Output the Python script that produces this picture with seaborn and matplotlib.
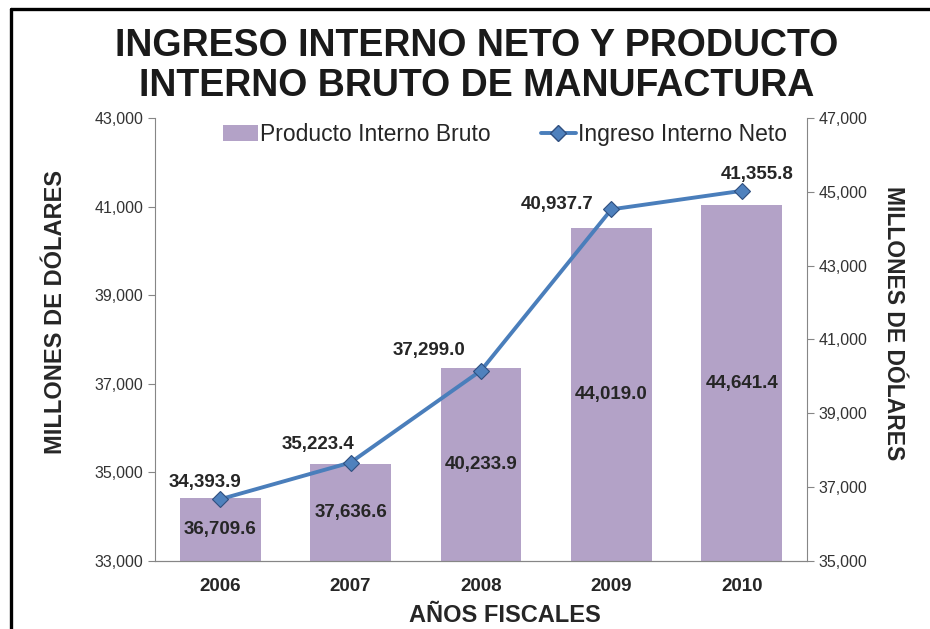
import numpy as np
import pandas as pd
import seaborn as sns
import matplotlib.pyplot as plt
from matplotlib.lines import Line2D
from matplotlib.patches import Patch

sns.set_style("ticks")
plt.rcParams["font.family"] = ["Liberation Sans", "DejaVu Sans"]

# Data
years = ["2006", "2007", "2008", "2009", "2010"]
pib = [36709.6, 37636.6, 40233.9, 44019.0, 44641.4]      # bars, right axis
ingreso = [34393.9, 35223.4, 37299.0, 40937.7, 41355.8]  # line, left axis

left_ticks = [33000, 35000, 37000, 39000, 41000, 43000]
right_ticks = [35000, 37000, 39000, 41000, 43000, 45000, 47000]

# label offsets (pixels) for the line labels, as placed in the original
line_offsets = [(-15, 17), (-33, 18), (-52, 20), (-54, 5), (15, 16)]

df = pd.DataFrame({"year": years, "pib": pib, "ingreso": ingreso})

bar_color = "#B3A2C7"
line_color = "#4A7EBB"
text_color = "#262626"
spine_color = "#868686"
px = 72 / 100  # pixels -> points

fig = plt.figure(figsize=(9.3, 6.29), dpi=100)
ax = fig.add_axes([155 / 930, 1 - 561 / 629, 652 / 930, 443 / 629])
ax2 = ax.twinx()

# bars on the right axis
sns.barplot(data=df, x="year", y="pib", ax=ax2, color=bar_color,
            saturation=1, width=0.62, edgecolor="none")
ax2.set_ylim(right_ticks[0], right_ticks[-1])
ax2.set_yticks(right_ticks)
ax2.set_yticklabels([f"{t:,}" for t in right_ticks])

# line on the left axis, drawn above the bars
ax.set_zorder(ax2.get_zorder() + 1)
ax.patch.set_visible(False)
sns.lineplot(x=np.arange(len(years)), y=ingreso, ax=ax, color=line_color,
             linewidth=2.8, marker="D", markersize=8.5,
             markerfacecolor="#4F81BD", markeredgecolor="#2F4F7F",
             markeredgewidth=0.8)
ax.set_ylim(left_ticks[0], left_ticks[-1])
ax.set_yticks(left_ticks)
ax.set_yticklabels([f"{t:,}" for t in left_ticks])
ax.set_xlim(-0.5, len(years) - 0.5)
ax.set_xticks(range(len(years)))
ax.set_xticklabels(years, fontsize=13.5, fontweight="bold", color=text_color)

# data labels
for i, v in enumerate(ingreso):
    dx, dy = line_offsets[i]
    ax.annotate(f"{v:,.1f}", (i, v), xytext=(dx * px, dy * px),
                textcoords="offset points", ha="center", va="center",
                fontsize=13.5, fontweight="bold", color=text_color)
lo = ax2.get_ylim()[0]
for i, v in enumerate(pib):
    ax2.text(i, (lo + v) / 2, f"{v:,.1f}", ha="center", va="center",
             fontsize=13.5, fontweight="bold", color=text_color)

# spines and ticks
for a in (ax, ax2):
    a.spines["top"].set_visible(False)
    for s in ("left", "right", "bottom"):
        a.spines[s].set_color(spine_color)
    a.tick_params(axis="y", labelsize=11.5, colors=spine_color,
                  labelcolor="#333333", length=5)
    a.tick_params(axis="x", length=0, pad=12)
ax.spines["right"].set_visible(False)
ax2.spines["left"].set_visible(False)
ax2.set_xlabel("")

ax.set_ylabel("MILLONES DE DÓLARES", fontsize=17, fontweight="bold",
              color=text_color, va="center")
ax.yaxis.set_label_coords(-0.1526, 0.562)
ax2.set_ylabel("MILLONES DE DÓLARES", fontsize=16.5, fontweight="bold",
               color=text_color, rotation=270, va="center")
ax2.yaxis.set_label_coords(1.132, 0.537)
ax.set_xlabel("AÑOS FISCALES", fontsize=17, fontweight="bold",
              color=text_color, va="center")
ax.xaxis.set_label_coords(0.537, -54 / 443)

fig.text(477 / 930, 1 - 66 / 629,
         "INGRESO INTERNO NETO Y PRODUCTO\nINTERNO BRUTO DE MANUFACTURA",
         ha="center", va="center", fontsize=27, fontweight="bold",
         color="#1a1a1a", linespacing=1.16)

handles = [Patch(facecolor=bar_color, edgecolor="none"),
           Line2D([0], [0], color=line_color, linewidth=2.8, marker="D",
                  markersize=8.5, markerfacecolor="#4F81BD",
                  markeredgecolor="#2F4F7F")]
ax.legend(handles, ["Producto Interno Bruto", "Ingreso Interno Neto"],
          loc="upper center", bbox_to_anchor=(0.537, 1.035), ncol=2,
          frameon=False, fontsize=16.5, handlelength=1.5, handletextpad=0.1,
          columnspacing=2.2)

# outer frame (cropped on right and bottom)
fig.add_artist(Line2D([11 / 930, 11 / 930], [0, 1 - 9 / 629],
                      color="black", linewidth=2.4, transform=fig.transFigure))
fig.add_artist(Line2D([11 / 930, 1], [1 - 9 / 629, 1 - 9 / 629],
                      color="black", linewidth=2.4, transform=fig.transFigure))

fig.savefig("out.png", dpi=100)
plt.close(fig)
